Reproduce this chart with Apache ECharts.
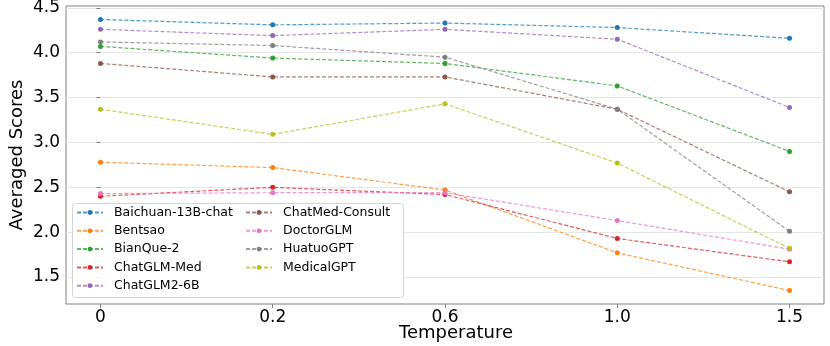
<!DOCTYPE html>
<html lang="en">
<head>
  <meta charset="utf-8">
  <title>Averaged Scores vs Temperature</title>
  <style>
    body { margin: 0; background: #fff; }
    #container { width: 830px; height: 346px; }
  </style>
</head>
<body>
  <div id="container"></div>
  <script src="https://cdn.jsdelivr.net/npm/echarts@6/dist/echarts.min.js"></script>
  <script>
    // temperatures (evenly spaced on the axis)
    var temperatures = ['0', '0.2', '0.6', '1.0', '1.5'];
    var yTicks = [1.5, 2.0, 2.5, 3.0, 3.5, 4.0, 4.5];

    var models = ['Baichuan-13B-chat', 'Bentsao', 'BianQue-2', 'ChatGLM-Med', 'ChatGLM2-6B',
                  'ChatMed-Consult', 'DoctorGLM', 'HuatuoGPT', 'MedicalGPT'];
    var colors = ['#1f77b4', '#ff7f0e', '#2ca02c', '#d62728', '#9467bd',
                  '#8c564b', '#e377c2', '#7f7f7f', '#bcbd22'];

    var baichuan   = [4.37, 4.31, 4.33, 4.28, 4.16];
    var bentsao    = [2.78, 2.72, 2.47, 1.77, 1.35];
    var bianque    = [4.07, 3.94, 3.88, 3.63, 2.90];
    var chatglmMed = [2.40, 2.50, 2.42, 1.93, 1.67];
    var chatglm2   = [4.26, 4.19, 4.26, 4.15, 3.39];
    var chatmed    = [3.88, 3.73, 3.73, 3.37, 2.45];
    var doctorglm  = [2.43, 2.44, 2.44, 2.13, 1.81];
    var huatuo     = [4.12, 4.08, 3.95, 3.37, 2.01];
    var medicalgpt = [3.37, 3.09, 3.43, 2.77, 1.82];

    var allScores = [baichuan, bentsao, bianque, chatglmMed, chatglm2, chatmed, doctorglm, huatuo, medicalgpt];

    var font = 'DejaVu Sans';
    var chart = echarts.init(document.getElementById('container'), null, { renderer: 'canvas' });

    var series = models.map(function (name, i) {
      return {
        name: name,
        type: 'line',
        data: allScores[i].map(function (v, j) { return [j, v]; }),
        symbol: 'circle',
        symbolSize: 5,
        itemStyle: { color: colors[i] },
        lineStyle: { color: colors[i], width: 1.2, type: [4, 2], opacity: 0.75 },
        emphasis: { disabled: true },
        z: 2
      };
    });

    var legendCommon = {
      orient: 'vertical',
      padding: 0,
      itemWidth: 26,
      itemHeight: 6,
      itemGap: 4.3,
      textStyle: { fontFamily: font, fontSize: 12.5, color: '#000', lineHeight: 14, padding: [0, 0, 0, 6] }
    };

    var option = {
      animation: false,
      backgroundColor: '#fff',
      grid: {
        left: 66, right: 6, top: 6, bottom: 42,
        outerBoundsMode: 'none',
        containLabel: false,
        show: true, borderColor: '#808080', borderWidth: 1, backgroundColor: 'transparent'
      },
      xAxis: {
        type: 'value',
        min: -0.2,
        max: 4.2,
        name: 'Temperature',
        nameLocation: 'middle',
        nameGap: 20,
        nameMoveOverlap: false,
        nameTextStyle: { fontFamily: font, fontSize: 18, color: '#000', verticalAlign: 'top', padding: [0, 0, 0, 22] },
        axisLine: { show: false },
        axisTick: { show: true, customValues: [0, 1, 2, 3, 4], length: 4, lineStyle: { color: '#808080' } },
        axisLabel: {
          customValues: [0, 1, 2, 3, 4],
          formatter: function (v) { return temperatures[Math.round(v)]; },
          fontFamily: font, fontSize: 17, color: '#000', margin: 5
        },
        splitLine: { show: false }
      },
      yAxis: {
        type: 'value',
        min: 1.2,
        max: 4.52,
        name: 'Averaged Scores',
        nameLocation: 'middle',
        nameGap: 40,
        nameMoveOverlap: false,
        nameTextStyle: { fontFamily: font, fontSize: 18, color: '#000' },
        axisLine: { show: false },
        axisTick: { show: true, customValues: yTicks, length: 4, lineStyle: { color: '#808080' } },
        axisLabel: {
          customValues: yTicks,
          formatter: function (v) { return v.toFixed(1); },
          fontFamily: font, fontSize: 17, color: '#000', margin: 6
        },
        splitLine: { show: true, lineStyle: { color: '#e6e6e6', width: 1 } }
      },
      graphic: [{
        type: 'rect',
        shape: { x: 72.5, y: 203.5, width: 331, height: 94, r: 3 },
        style: { fill: 'rgba(255,255,255,0.85)', stroke: '#d4d4d4', lineWidth: 1 },
        z: 3
      }],
      legend: [
        Object.assign({}, legendCommon, { left: 76, top: 205.5, data: models.slice(0, 5) }),
        Object.assign({}, legendCommon, { left: 245, top: 205.5, data: models.slice(5) })
      ],
      series: series
    };

    chart.setOption(option);
  </script>
</body>
</html>
